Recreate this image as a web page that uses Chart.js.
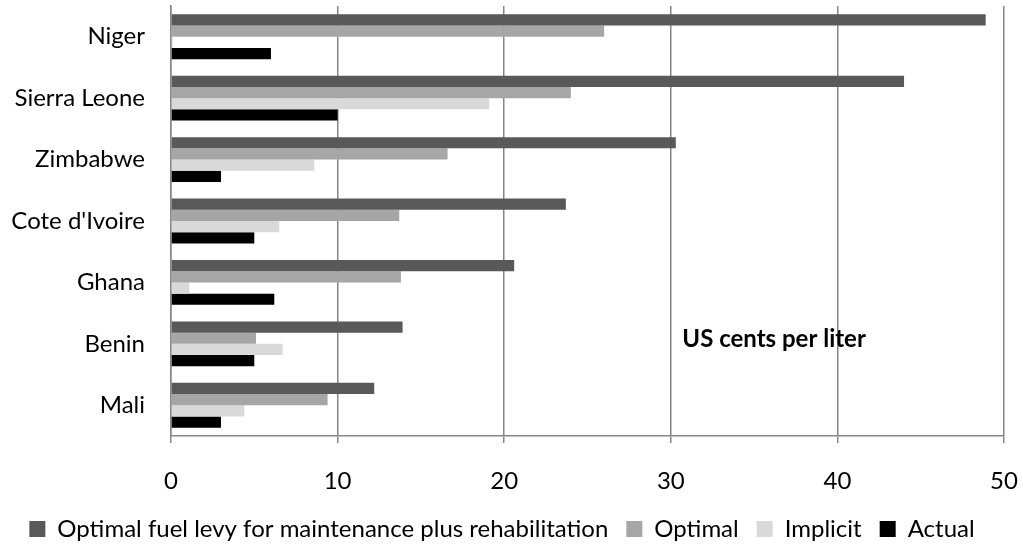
<!DOCTYPE html>
<html><head><meta charset="utf-8">
<script src="https://cdn.jsdelivr.net/npm/chart.js@4/dist/chart.umd.min.js"></script>
<style>html,body{margin:0;padding:0;background:#fff}#wrap{width:1023px;height:546px}</style>
</head><body><div id="wrap"><canvas id="c" width="1023" height="546"></canvas></div>
<script>
const categories = ["Niger","Sierra Leone","Zimbabwe","Cote d'Ivoire","Ghana","Benin","Mali"];
const seriesNames = ["Optimal fuel levy for maintenance plus rehabilitation","Optimal","Implicit","Actual"];
const maintPlusRehab = [48.9, 44.0, 30.3, 23.7, 20.6, 13.9, 12.2];
const optimal = [26.0, 24.0, 16.6, 13.7, 13.8, 5.1, 9.4];
const implicit = [0.1, 19.1, 8.6, 6.5, 1.1, 6.7, 4.4];
const actual = [6.0, 10.0, 3.0, 5.0, 6.2, 5.0, 3.0];
const xTicks = [0,10,20,30,40,50];
const annotationText = "US cents per liter";

const FONT = "Lato";
const colors = ["#595959","#A6A6A6","#D9D9D9","#000000"];
const values = [maintPlusRehab, optimal, implicit, actual];

const annot = {
  id: 'annot',
  afterDatasetsDraw(chart){
    const {ctx, scales:{x,y}} = chart;
    ctx.save();
    ctx.font = "bold 24px " + FONT;
    ctx.fillStyle = "#000";
    ctx.textAlign = "center";
    ctx.textBaseline = "middle";
    ctx.fillText(annotationText, x.getPixelForValue(36.2), y.getPixelForValue(5) - 5);
    ctx.restore();
  }
};

new Chart(document.getElementById('c'), {
  type: 'bar',
  data: {
    labels: categories,
    datasets: seriesNames.map((n,i)=>({
      label: n, data: values[i], backgroundColor: colors[i],
      borderWidth: 0, barPercentage: 1.0, categoryPercentage: 0.73
    }))
  },
  options: {
    indexAxis: 'y',
    responsive: false,
    animation: false,
    layout: {padding: {top: 6, right: 19, left: 0, bottom: -5}},
    scales: {
      x: {
        min: 0, max: 50,
        afterBuildTicks: s => { s.ticks = xTicks.map(v=>({value:v})); },
        grid: {color: "#868686", lineWidth: 1.5, tickLength: 7, drawTicks: true},
        border: {color: "#868686", width: 1.5},
        ticks: {color: "#000", font: {family: FONT, size: 24}, padding: 24},
        afterFit: s => { s.height = 63; s.paddingLeft = 0; s.paddingRight = 0; }
      },
      y: {
        grid: {display: false, drawTicks: false},
        border: {display: true, color: "#868686", width: 1.5},
        ticks: {color: "#000", font: {family: FONT, size: 24}, padding: 26},
        afterFit: s => { s.width = 171; s.paddingTop = 0; s.paddingBottom = 0; }
      }
    },
    plugins: {
      legend: {
        position: 'bottom',
        labels: {font: {family: FONT, size: 24}, color: "#000", boxWidth: 16, boxHeight: 16, padding: 18}
      },
      tooltip: {enabled: false}
    }
  },
  plugins: [annot]
});
</script></body></html>
